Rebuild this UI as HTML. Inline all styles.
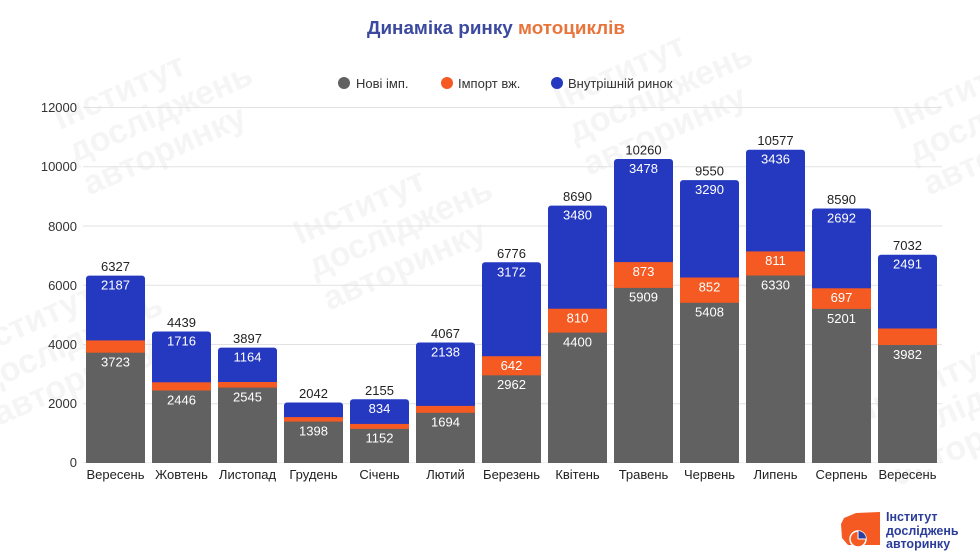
<!DOCTYPE html>
<html><head><meta charset="utf-8"><style>
html,body{margin:0;padding:0;background:#fff;}
body{width:980px;height:560px;overflow:hidden;}
svg{display:block;font-family:"Liberation Sans",sans-serif;}
</style></head><body>
<svg width="980" height="560" viewBox="0 0 980 560" xmlns="http://www.w3.org/2000/svg">
<!-- watermarks -->
<g fill="#f5f5f5" font-weight="bold" font-size="34">
<g transform="translate(300,245) rotate(-24)"><text x="0" y="0">Інститут</text><text x="0" y="36">досліджень</text><text x="0" y="72">авторинку</text></g>
<g transform="translate(60,130) rotate(-24)"><text x="0" y="0">Інститут</text><text x="0" y="36">досліджень</text><text x="0" y="72">авторинку</text></g>
<g transform="translate(560,110) rotate(-24)"><text x="0" y="0">Інститут</text><text x="0" y="36">досліджень</text><text x="0" y="72">авторинку</text></g>
<g transform="translate(900,130) rotate(-24)"><text x="0" y="0">Інститут</text><text x="0" y="36">досліджень</text><text x="0" y="72">авторинку</text></g>
<g transform="translate(-30,360) rotate(-24)"><text x="0" y="0">Інститут</text><text x="0" y="36">досліджень</text><text x="0" y="72">авторинку</text></g>
<g transform="translate(870,420) rotate(-24)"><text x="0" y="0">Інститут</text><text x="0" y="36">досліджень</text><text x="0" y="72">авторинку</text></g>
</g>
<!-- title -->
<text x="367" y="34" font-size="18" font-weight="bold" textLength="258" lengthAdjust="spacingAndGlyphs"><tspan fill="#3b4a9e">Динаміка ринку </tspan><tspan fill="#e8743b">мотоциклів</tspan></text>
<!-- legend -->
<circle cx="344" cy="83" r="6" fill="#616161"/><text x="356" y="88" font-size="13" fill="#333">Нові імп.</text>
<circle cx="447" cy="83" r="6" fill="#f45a22"/><text x="458" y="88" font-size="13" fill="#333">Імпорт вж.</text>
<circle cx="557" cy="83" r="6" fill="#2438c0"/><text x="568" y="88" font-size="13" fill="#333">Внутрішній ринок</text>
<!-- grid -->
<g stroke="#e2e2e2" stroke-width="1">
<line x1="83" x2="942" y1="107.5" y2="107.5"/>
<line x1="83" x2="942" y1="166.75" y2="166.75"/>
<line x1="83" x2="942" y1="226" y2="226"/>
<line x1="83" x2="942" y1="285.25" y2="285.25"/>
<line x1="83" x2="942" y1="344.5" y2="344.5"/>
<line x1="83" x2="942" y1="403.75" y2="403.75"/>
<line x1="83" x2="942" y1="463" y2="463"/>
</g>
<g font-size="13" fill="#333" text-anchor="end">
<text x="77" y="112">12000</text>
<text x="77" y="171">10000</text>
<text x="77" y="231">8000</text>
<text x="77" y="290">6000</text>
<text x="77" y="349">4000</text>
<text x="77" y="408">2000</text>
<text x="77" y="467">0</text>
</g>
<!-- bars -->
<g>
<rect x="86" y="275.6" width="59" height="190" rx="3" fill="#2438c0"/>
<rect x="86" y="340.4" width="59" height="122.6" fill="#f45a22"/>
<rect x="86" y="352.7" width="59" height="110.3" fill="#616161"/>
<rect x="152" y="331.5" width="59" height="134" rx="3" fill="#2438c0"/>
<rect x="152" y="382.3" width="59" height="80.7" fill="#f45a22"/>
<rect x="152" y="390.5" width="59" height="72.5" fill="#616161"/>
<rect x="218" y="347.6" width="59" height="118" rx="3" fill="#2438c0"/>
<rect x="218" y="382.0" width="59" height="81" fill="#f45a22"/>
<rect x="218" y="387.6" width="59" height="75.4" fill="#616161"/>
<rect x="284" y="402.5" width="59" height="63" rx="3" fill="#2438c0"/>
<rect x="284" y="417.1" width="59" height="45.9" fill="#f45a22"/>
<rect x="284" y="421.6" width="59" height="41.4" fill="#616161"/>
<rect x="350" y="399.2" width="59" height="66" rx="3" fill="#2438c0"/>
<rect x="350" y="423.9" width="59" height="39.1" fill="#f45a22"/>
<rect x="350" y="428.9" width="59" height="34.1" fill="#616161"/>
<rect x="416" y="342.5" width="59" height="123" rx="3" fill="#2438c0"/>
<rect x="416" y="405.9" width="59" height="57.1" fill="#f45a22"/>
<rect x="416" y="412.8" width="59" height="50.2" fill="#616161"/>
<rect x="482" y="262.3" width="59" height="203" rx="3" fill="#2438c0"/>
<rect x="482" y="356.2" width="59" height="106.8" fill="#f45a22"/>
<rect x="482" y="375.3" width="59" height="87.7" fill="#616161"/>
<rect x="548" y="205.6" width="59" height="260" rx="3" fill="#2438c0"/>
<rect x="548" y="308.7" width="59" height="154.3" fill="#f45a22"/>
<rect x="548" y="332.6" width="59" height="130.4" fill="#616161"/>
<rect x="614" y="159.0" width="59" height="307" rx="3" fill="#2438c0"/>
<rect x="614" y="262.1" width="59" height="200.9" fill="#f45a22"/>
<rect x="614" y="287.9" width="59" height="175.1" fill="#616161"/>
<rect x="680" y="180.1" width="59" height="286" rx="3" fill="#2438c0"/>
<rect x="680" y="277.5" width="59" height="185.5" fill="#f45a22"/>
<rect x="680" y="302.8" width="59" height="160.2" fill="#616161"/>
<rect x="746" y="149.7" width="59" height="316" rx="3" fill="#2438c0"/>
<rect x="746" y="251.4" width="59" height="211.6" fill="#f45a22"/>
<rect x="746" y="275.5" width="59" height="187.5" fill="#616161"/>
<rect x="812" y="208.5" width="59" height="257" rx="3" fill="#2438c0"/>
<rect x="812" y="288.3" width="59" height="174.7" fill="#f45a22"/>
<rect x="812" y="308.9" width="59" height="154.1" fill="#616161"/>
<rect x="878" y="254.7" width="59" height="211" rx="3" fill="#2438c0"/>
<rect x="878" y="328.5" width="59" height="134.5" fill="#f45a22"/>
<rect x="878" y="345.0" width="59" height="118" fill="#616161"/>
</g>
<rect x="80" y="463" width="865" height="6" fill="#fff"/>
<!-- totals -->
<g font-size="13" fill="#222" text-anchor="middle">
<text x="115.5" y="271">6327</text>
<text x="181.5" y="327">4439</text>
<text x="247.5" y="343">3897</text>
<text x="313.5" y="398">2042</text>
<text x="379.5" y="395">2155</text>
<text x="445.5" y="338">4067</text>
<text x="511.5" y="258">6776</text>
<text x="577.5" y="201">8690</text>
<text x="643.5" y="154.5">10260</text>
<text x="709.5" y="175.5">9550</text>
<text x="775.5" y="145">10577</text>
<text x="841.5" y="204">8590</text>
<text x="907.5" y="250">7032</text>
</g>
<!-- inner labels -->
<g font-size="13" fill="#fff" text-anchor="middle">
<text x="115.5" y="289.5">2187</text><text x="115.5" y="366.5">3723</text>
<text x="181.5" y="345.5">1716</text><text x="181.5" y="404.5">2446</text>
<text x="247.5" y="361.5">1164</text><text x="247.5" y="401.5">2545</text>
<text x="313.5" y="435.5">1398</text>
<text x="379.5" y="413">834</text><text x="379.5" y="442.5">1152</text>
<text x="445.5" y="356.5">2138</text><text x="445.5" y="426.5">1694</text>
<text x="511.5" y="276.5">3172</text><text x="511.5" y="370">642</text><text x="511.5" y="389">2962</text>
<text x="577.5" y="219.5">3480</text><text x="577.5" y="322.5">810</text><text x="577.5" y="346.5">4400</text>
<text x="643.5" y="173">3478</text><text x="643.5" y="276">873</text><text x="643.5" y="301.5">5909</text>
<text x="709.5" y="194">3290</text><text x="709.5" y="291.5">852</text><text x="709.5" y="316.5">5408</text>
<text x="775.5" y="163.5">3436</text><text x="775.5" y="265">811</text><text x="775.5" y="289.5">6330</text>
<text x="841.5" y="222.5">2692</text><text x="841.5" y="302">697</text><text x="841.5" y="323">5201</text>
<text x="907.5" y="268.5">2491</text><text x="907.5" y="359">3982</text>
</g>
<!-- x labels -->
<g font-size="13" fill="#222" text-anchor="middle">
<text x="115.5" y="479">Вересень</text>
<text x="181.5" y="479">Жовтень</text>
<text x="247.5" y="479">Листопад</text>
<text x="313.5" y="479">Грудень</text>
<text x="379.5" y="479">Січень</text>
<text x="445.5" y="479">Лютий</text>
<text x="511.5" y="479">Березень</text>
<text x="577.5" y="479">Квітень</text>
<text x="643.5" y="479">Травень</text>
<text x="709.5" y="479">Червень</text>
<text x="775.5" y="479">Липень</text>
<text x="841.5" y="479">Серпень</text>
<text x="907.5" y="479">Вересень</text>
</g>
<!-- logo -->
<polygon points="844,518 856,513 880,512 880,545 848,545 842,538 841,524" fill="#f45a22"/>
<circle cx="858" cy="539" r="8" fill="#f45a22" stroke="#fff" stroke-width="1.5"/>
<path d="M858,539 L858,531 A8,8 0 0 1 866,539 Z" fill="#2a3f9f"/>
<line x1="858" y1="539" x2="866" y2="539" stroke="#fff" stroke-width="1"/>
<line x1="858" y1="539" x2="858" y2="531" stroke="#fff" stroke-width="1"/>
<g font-size="12.5" font-weight="bold" fill="#2b3d9a">
<text x="886" y="521">Інститут</text>
<text x="886" y="535">досліджень</text>
<text x="886" y="548">авторинку</text>
</g>
</svg>
</body></html>
